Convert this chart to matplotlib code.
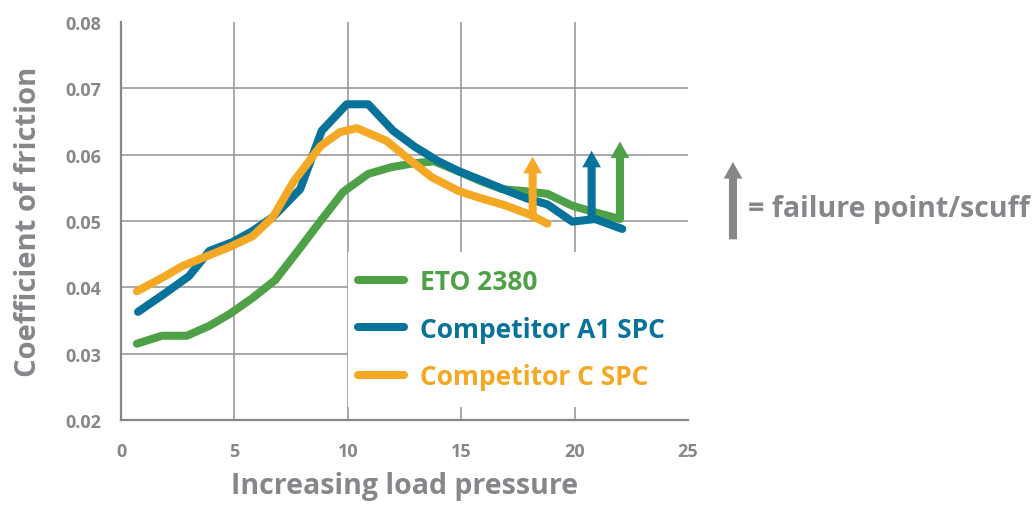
import matplotlib
matplotlib.use("Agg")
import matplotlib.pyplot as plt
from matplotlib.lines import Line2D
from matplotlib.patches import FancyArrowPatch, Rectangle

plt.rcParams['font.family'] = ['Open Sans', 'DejaVu Sans']

# data
eto_x = [0.7, 1.8, 2.9, 3.9, 4.8, 5.8, 6.8, 7.8, 8.8, 9.8, 10.9, 11.9, 12.9, 13.8,
         14.8, 15.8, 16.8, 17.8, 18.8, 19.9, 20.8, 22.0]
eto_y = [0.0315, 0.0327, 0.0327, 0.0342, 0.0360, 0.0384, 0.0411, 0.0455, 0.0500, 0.0544,
         0.0571, 0.0581, 0.0587, 0.0590, 0.0576, 0.0561, 0.0548, 0.0545, 0.0541, 0.0523,
         0.0514, 0.0503]
a1_x = [0.75, 1.9, 3.0, 3.9, 4.9, 5.8, 6.7, 7.9, 8.85, 9.95, 10.9, 12.0, 12.95, 14.0,
        14.9, 16.0, 17.0, 17.9, 18.8, 19.9, 20.9, 22.1]
a1_y = [0.0363, 0.0390, 0.0417, 0.0455, 0.0468, 0.0485, 0.0506, 0.0548, 0.0636, 0.0676,
        0.0676, 0.0636, 0.0612, 0.0590, 0.0575, 0.0560, 0.0546, 0.0534, 0.0525, 0.0499,
        0.0503, 0.0488]
c_x = [0.7, 1.9, 2.7, 3.5, 4.8, 5.8, 6.7, 7.6, 8.8, 9.65, 10.4, 11.7, 12.7, 13.7, 14.9,
       15.9, 16.9, 18.0, 18.8]
c_y = [0.0394, 0.0416, 0.0432, 0.0443, 0.0461, 0.0477, 0.0506, 0.0559, 0.0613, 0.0634,
       0.0640, 0.0621, 0.0593, 0.0566, 0.0545, 0.0534, 0.0524, 0.0510, 0.0496]

# failure points (x, start, tip)
fail_eto = (22.0, 0.0503, 0.0620)
fail_a1 = (20.75, 0.0503, 0.0606)
fail_c = (18.15, 0.0507, 0.0597)

labels = ["ETO 2380", "Competitor A1 SPC", "Competitor C SPC"]
green = "#4fa147"
blue = "#07739b"
orange = "#f5a823"
grey = "#85878a"

xticks = [0, 5, 10, 15, 20, 25]
yticks = [0.02, 0.03, 0.04, 0.05, 0.06, 0.07, 0.08]

fig = plt.figure(figsize=(10.36, 5.06), dpi=100)
ax = fig.add_axes([0.1168, 0.168, 0.5473, 0.7865])
ax.set_xlim(0, 25)
ax.set_ylim(0.02, 0.08)

for v in xticks[1:-1]:
    ax.axvline(v, color="#9b9b9b", lw=1.2, zorder=0.5)
for v in yticks[1:-1]:
    ax.axhline(v, color="#9b9b9b", lw=1.2, zorder=0.5)

# white box behind the legend
ax.add_patch(Rectangle((0.401, 0.032), 0.6, 0.39, transform=ax.transAxes,
                       facecolor="white", edgecolor="none", zorder=1))

lw = 5.8
arrow = "simple,head_length=1.2,head_width=1.35,tail_width=0.58"
series = [(eto_x, eto_y, green, fail_eto, 2), (a1_x, a1_y, blue, fail_a1, 3),
          (c_x, c_y, orange, fail_c, 4)]
for xs, ys, col, f, z in series:
    ax.plot(xs, ys, color=col, lw=lw, solid_capstyle="round", solid_joinstyle="round",
            zorder=z)
    ax.add_patch(FancyArrowPatch((f[0], f[1]), (f[0], f[2]), arrowstyle=arrow,
                                 mutation_scale=10, color=col, lw=0, zorder=z,
                                 shrinkA=0, shrinkB=0))

for s in ["top", "right"]:
    ax.spines[s].set_visible(False)
for s in ["left", "bottom"]:
    ax.spines[s].set_color(grey)
    ax.spines[s].set_linewidth(1.6)
    ax.spines[s].set_zorder(5)

ax.set_xticks(xticks)
ax.set_xticklabels([str(t) for t in xticks])
ax.set_yticks(yticks)
ax.set_yticklabels(["%.2f" % t for t in yticks])
ax.tick_params(axis="both", length=0, labelsize=13, labelcolor=grey)
ax.tick_params(axis="x", pad=16)
ax.tick_params(axis="y", pad=14)
for t in ax.get_xticklabels() + ax.get_yticklabels():
    t.set_fontweight("bold")

ax.set_xlabel("Increasing load pressure", fontsize=20.5, fontweight="bold", color=grey,
              labelpad=8)
ax.set_ylabel("Coefficient of friction", fontsize=21, fontweight="bold", color=grey,
              labelpad=16)

handles = [Line2D([], [], color=c, lw=lw, solid_capstyle="round") for c in (green, blue, orange)]
leg = ax.legend(handles, labels, loc="upper left", bbox_to_anchor=(0.418, 0.382),
                frameon=False, handlelength=1.75, handletextpad=0.6,
                labelspacing=0.78, borderpad=0, borderaxespad=0,
                labelcolor=[green, blue, orange], prop={"weight": "bold", "size": 19})

# failure key
fig.add_artist(FancyArrowPatch((0.7075, 0.525), (0.7075, 0.678), transform=fig.transFigure,
                               arrowstyle=arrow, mutation_scale=10, color=grey, lw=0,
                               shrinkA=0, shrinkB=0))
fig.text(0.722, 0.585, "= failure point/scuff", fontsize=20.5, fontweight="bold",
         color=grey, va="center", ha="left")

fig.savefig("out.png", dpi=100)
